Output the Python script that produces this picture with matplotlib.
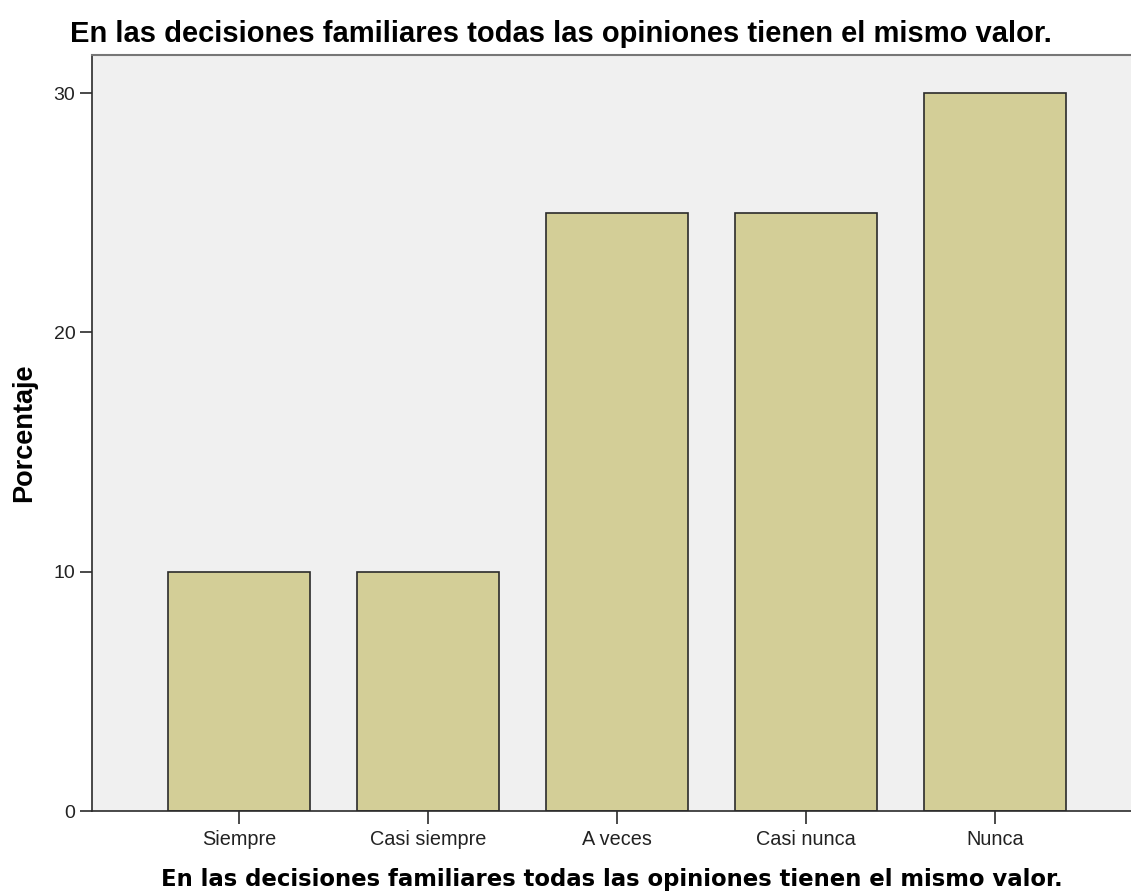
import matplotlib
matplotlib.use("Agg")
import matplotlib.pyplot as plt

categorias = ["Siempre", "Casi siempre", "A veces", "Casi nunca", "Nunca"]
porcentaje = [10, 10, 25, 25, 30]
titulo = "En las decisiones familiares todas las opiniones tienen el mismo valor."

fig = plt.figure(figsize=(11.31, 8.94), dpi=100)
ax = fig.add_axes([92 / 1131, 1 - 811 / 894, (1131 - 92) / 1131, (811 - 55) / 894])
ax.set_facecolor("#F0F0F0")

x = range(len(categorias))
ax.bar(x, porcentaje, width=0.75, color="#D3CE97", edgecolor="#2b2b2b", linewidth=1.2)

ax.set_xlim(-0.778, 4.72)
ax.set_ylim(0, 31.59)
ax.set_yticks([0, 10, 20, 30])
ax.set_xticks(list(x))
ax.set_xticklabels(categorias, fontfamily="Liberation Sans", fontsize=14.3, color="#222222")
for lab in ax.get_yticklabels():
    lab.set_fontfamily("Liberation Sans")
    lab.set_fontsize(14)
    lab.set_color("#222222")
ax.tick_params(axis="y", length=9, width=1.2, color="#2b2b2b", pad=3)
ax.tick_params(axis="x", length=9, width=1.2, color="#2b2b2b", pad=4.5)

ax.spines["right"].set_visible(False)
ax.spines["top"].set_color("#777777")
ax.spines["top"].set_linewidth(1.5)
ax.spines["left"].set_linewidth(1.2)
ax.spines["bottom"].set_linewidth(1.2)
ax.spines["left"].set_color("#2b2b2b")
ax.spines["bottom"].set_color("#2b2b2b")

ax.set_ylabel("Porcentaje", fontfamily="Liberation Sans", fontweight="bold", fontsize=19.5, labelpad=12)
ax.set_xlabel(titulo, fontfamily="DejaVu Sans", fontweight="bold", fontsize=16.4, labelpad=14)
fig.text(70 / 1131, 1 - 34 / 894, titulo, fontfamily="Liberation Sans", fontweight="bold",
         fontsize=21, va="center", ha="left")

fig.savefig("out.png", dpi=100)
